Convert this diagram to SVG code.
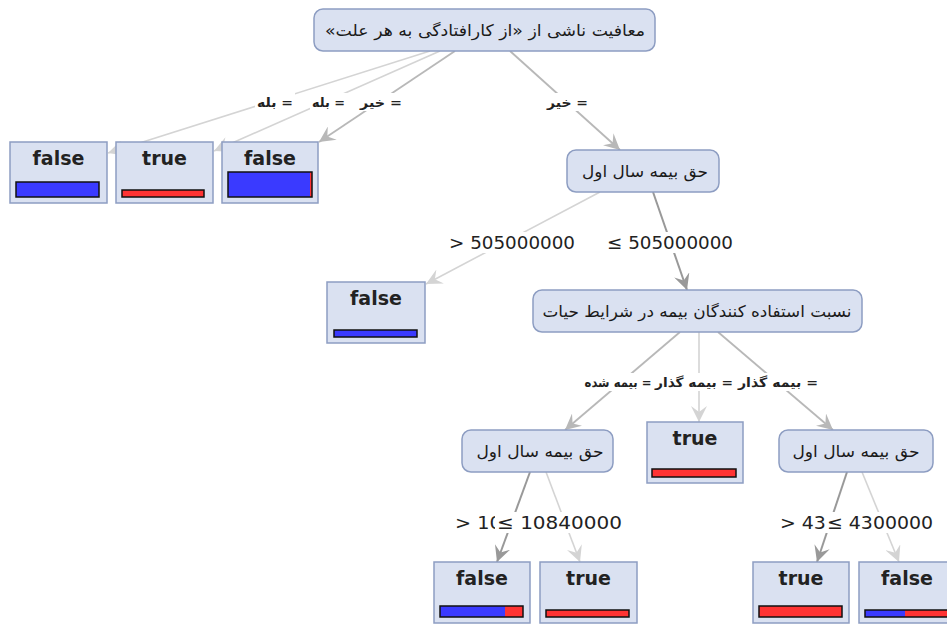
<svg xmlns="http://www.w3.org/2000/svg" width="947" height="626" viewBox="0 0 947 626">
<style>
.dec rect{fill:#dae1f1;stroke:#8d9dc2;stroke-width:1.5}
.leaf rect.box{fill:#dae1f1;stroke:#8d9dc2;stroke-width:1.5}
.nt{font-family:"DejaVu Sans",sans-serif;font-size:16px;fill:#1a1a1a;text-anchor:middle}
.lt{font-family:"DejaVu Sans",sans-serif;font-weight:bold;font-size:19px;fill:#222;text-anchor:middle}
.bb{fill:#3a3aff}
.br{fill:#ff3333}
.bo{fill:none;stroke:#111;stroke-width:1.5}
.e1{stroke:#d4d4d4;stroke-width:1.6;fill:none}
.e2{stroke:#b8b8b8;stroke-width:1.8;fill:none}
.e3{stroke:#999;stroke-width:2;fill:none}
.lbg{fill:#fff}
.pl{font-family:"DejaVu Sans",sans-serif;font-weight:bold;font-size:13px;fill:#222;text-anchor:middle}
.nl{font-family:"DejaVu Sans",sans-serif;font-size:18px;fill:#222}
</style>
<defs>
<marker id="a1" markerUnits="userSpaceOnUse" markerWidth="18" markerHeight="16" refX="16" refY="8" orient="auto"><path d="M0,0 L16,8 L0,16 L6,8 Z" fill="#d4d4d4"/></marker>
<marker id="a2" markerUnits="userSpaceOnUse" markerWidth="18" markerHeight="16" refX="16" refY="8" orient="auto"><path d="M0,0 L16,8 L0,16 L6,8 Z" fill="#b8b8b8"/></marker>
<marker id="a3" markerUnits="userSpaceOnUse" markerWidth="18" markerHeight="16" refX="16" refY="8" orient="auto"><path d="M0,0 L16,8 L0,16 L6,8 Z" fill="#999"/></marker>
</defs>
<rect width="947" height="626" fill="#fff"/>
<g id="connectors">
<line class="e1" x1="430" y1="51" x2="108" y2="153" marker-end="url(#a1)"/>
<line class="e1" x1="440" y1="51" x2="214" y2="151" marker-end="url(#a1)"/>
<line class="e2" x1="455" y1="51" x2="319" y2="142" marker-end="url(#a2)"/>
<line class="e2" x1="510" y1="51" x2="620" y2="150" marker-end="url(#a2)"/>
<line class="e1" x1="600" y1="192" x2="426" y2="284" marker-end="url(#a1)"/>
<line class="e3" x1="653" y1="192" x2="687" y2="290" marker-end="url(#a3)"/>
<line class="e2" x1="680" y1="332" x2="565" y2="430" marker-end="url(#a2)"/>
<line class="e1" x1="699" y1="332" x2="699" y2="422" marker-end="url(#a1)"/>
<line class="e2" x1="718" y1="332" x2="833" y2="430" marker-end="url(#a2)"/>
<line class="e3" x1="530" y1="472" x2="497" y2="562" marker-end="url(#a3)"/>
<line class="e1" x1="546" y1="472" x2="580" y2="562" marker-end="url(#a1)"/>
<line class="e3" x1="847" y1="472" x2="817" y2="562" marker-end="url(#a3)"/>
<line class="e1" x1="862" y1="472" x2="899" y2="562" marker-end="url(#a1)"/>
<g id="edge-labels">
<rect class="lbg" x="255" y="93" width="40" height="18"/>
<text class="pl" x="275" y="107" textLength="36" lengthAdjust="spacingAndGlyphs">بله =</text>
<rect class="lbg" x="310" y="93" width="37" height="18"/>
<text class="pl" x="328.5" y="107" textLength="33" lengthAdjust="spacingAndGlyphs">بله =</text>
<rect class="lbg" x="358" y="93" width="46" height="18"/>
<text class="pl" x="381" y="107" textLength="42" lengthAdjust="spacingAndGlyphs">خیر =</text>
<rect class="lbg" x="545" y="93" width="45" height="18"/>
<text class="pl" x="567.5" y="107" textLength="41" lengthAdjust="spacingAndGlyphs">خیر =</text>
<rect class="lbg" x="445" y="232" width="134" height="21"/>
<text class="nl" x="449" y="249" textLength="126" lengthAdjust="spacingAndGlyphs">&gt; 505000000</text>
<rect class="lbg" x="603" y="232" width="134" height="21"/>
<text class="nl" x="607" y="249" textLength="126" lengthAdjust="spacingAndGlyphs">≤ 505000000</text>
<rect class="lbg" x="583" y="373" width="237" height="18"/>
<text class="pl" x="618" y="387" textLength="67" lengthAdjust="spacingAndGlyphs">بیمه شده =</text>
<text class="pl" x="694" y="387" textLength="78" lengthAdjust="spacingAndGlyphs">بیمه گذار =</text>
<text class="pl" x="778" y="387" textLength="80" lengthAdjust="spacingAndGlyphs">بیمه گذار =</text>
<rect class="lbg" x="452" y="512" width="126" height="21"/>
<text class="nl" x="455" y="529" textLength="120" lengthAdjust="spacingAndGlyphs">&gt; 10840000</text>
<rect class="lbg" x="495" y="512" width="130" height="21"/>
<text class="nl" x="497" y="529" textLength="125" lengthAdjust="spacingAndGlyphs">≤ 10840000</text>
<rect class="lbg" x="777" y="512" width="112" height="21"/>
<text class="nl" x="780" y="529" textLength="106" lengthAdjust="spacingAndGlyphs">&gt; 4300000</text>
<rect class="lbg" x="825" y="512" width="111" height="21"/>
<text class="nl" x="827" y="529" textLength="106" lengthAdjust="spacingAndGlyphs">≤ 4300000</text>
</g>
</g>
<g id="root" class="dec">
<rect x="314" y="9" width="341" height="42" rx="9"/>
<text class="nt" x="485" y="36" direction="rtl" textLength="320" lengthAdjust="spacingAndGlyphs">معافیت ناشی از «از کارافتادگی به هر علت»</text>
</g>
<g id="n2" class="dec">
<rect x="567" y="150" width="152" height="42" rx="9"/>
<text class="nt" x="645" y="177" direction="rtl" textLength="126" lengthAdjust="spacingAndGlyphs">حق بیمه سال اول</text>
</g>
<g id="n3" class="dec">
<rect x="533" y="290" width="329" height="42" rx="9"/>
<text class="nt" x="697" y="317" direction="rtl" textLength="309" lengthAdjust="spacingAndGlyphs">نسبت استفاده کنندگان بیمه در شرایط حیات</text>
</g>
<g id="n4" class="dec">
<rect x="462" y="430" width="151" height="42" rx="9"/>
<text class="nt" x="540" y="457" direction="rtl" textLength="127" lengthAdjust="spacingAndGlyphs">حق بیمه سال اول</text>
</g>
<g id="n5" class="dec">
<rect x="779" y="430" width="154" height="42" rx="9"/>
<text class="nt" x="856" y="457" direction="rtl" textLength="127" lengthAdjust="spacingAndGlyphs">حق بیمه سال اول</text>
</g>
<g id="leaf1" class="leaf">
<rect class="box" x="10" y="142" width="97" height="61"/>
<text class="lt" x="58.5" y="165">false</text>
<rect class="bb" x="16" y="182" width="83" height="15"/><rect class="bo" x="16" y="182" width="83" height="15"/>
</g>
<g id="leaf2" class="leaf">
<rect class="box" x="116" y="142" width="97" height="61"/>
<text class="lt" x="164.5" y="165">true</text>
<rect class="br" x="122" y="190" width="82" height="7"/><rect class="bo" x="122" y="190" width="82" height="7"/>
</g>
<g id="leaf3" class="leaf">
<rect class="box" x="222" y="142" width="96" height="61"/>
<text class="lt" x="270" y="165">false</text>
<rect class="bb" x="228" y="172" width="82" height="25"/><rect class="br" x="310" y="172" width="2" height="25"/><rect class="bo" x="228" y="172" width="84" height="25"/>
</g>
<g id="leaf4" class="leaf">
<rect class="box" x="327" y="282" width="98" height="61"/>
<text class="lt" x="376" y="305">false</text>
<rect class="bb" x="334" y="330" width="83" height="7"/><rect class="bo" x="334" y="330" width="83" height="7"/>
</g>
<g id="leaf5" class="leaf">
<rect class="box" x="647" y="422" width="96" height="61"/>
<text class="lt" x="695" y="445">true</text>
<rect class="br" x="652" y="469" width="84" height="8"/><rect class="bo" x="652" y="469" width="84" height="8"/>
</g>
<g id="leaf6" class="leaf">
<rect class="box" x="434" y="562" width="96" height="61"/>
<text class="lt" x="482" y="585">false</text>
<rect class="bb" x="440" y="606" width="65" height="11"/><rect class="br" x="505" y="606" width="18" height="11"/><rect class="bo" x="440" y="606" width="83" height="11"/>
</g>
<g id="leaf7" class="leaf">
<rect class="box" x="540" y="562" width="97" height="61"/>
<text class="lt" x="588.5" y="585">true</text>
<rect class="br" x="546" y="610" width="83" height="7"/><rect class="bo" x="546" y="610" width="83" height="7"/>
</g>
<g id="leaf8" class="leaf">
<rect class="box" x="753" y="562" width="96" height="61"/>
<text class="lt" x="801" y="585">true</text>
<rect class="br" x="759" y="606" width="83" height="11"/><rect class="bo" x="759" y="606" width="83" height="11"/>
</g>
<g id="leaf9" class="leaf">
<rect class="box" x="859" y="562" width="96" height="61"/>
<text class="lt" x="907" y="585">false</text>
<rect class="bb" x="865" y="610" width="40" height="7"/><rect class="br" x="905" y="610" width="44" height="7"/><rect class="bo" x="865" y="610" width="84" height="7"/>
</g>
</svg>
